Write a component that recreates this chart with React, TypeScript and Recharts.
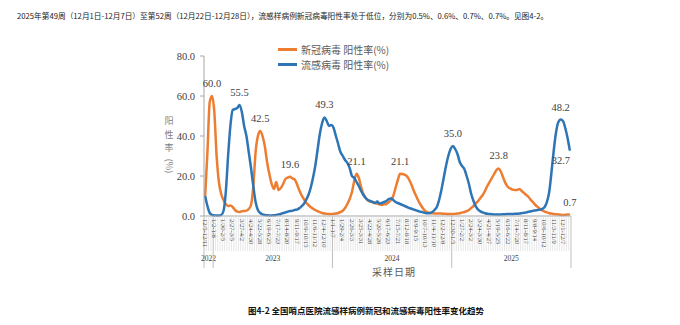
import { LineChart, Line, XAxis, YAxis, Legend, LabelList } from "recharts";

// weekly positivity (%), 2022-12-05 .. 2025-12-28
const covid = [
  10, 32, 57, 60, 52, 30, 17, 11, 8, 6,
  5, 5.2, 4.5, 3, 2.2, 2, 2.4, 2.5, 2.7, 3.5,
  5.5, 15, 32, 40, 42.5, 40, 35, 27, 21, 16,
  13.5, 17, 13, 14, 16, 18.5, 19.2, 19.6, 18.8, 18.3,
  16, 13, 10.5, 8.5, 6.8, 5.5, 4.5, 3.7, 3, 2.4,
  1.9, 1.5, 1.2, 1.1, 1, 1, 1.1, 1.2, 1.5, 2,
  2.6, 4, 6, 8.5, 12, 17.5, 21.1, 19, 14.5, 11,
  9, 7.8, 7.2, 7, 6.5, 6.2, 5.8, 5.5, 5.8, 6,
  6.8, 8, 10, 14, 18, 21.1, 21, 20.6, 19.8, 18,
  15.5, 12.5, 10, 7.5, 5.5, 3.8, 2.5, 1.8, 1.5, 1.4,
  1.3, 1.2, 1.2, 1.2, 1.1, 1.1, 1, 1, 1, 1.1,
  1.2, 1.4, 1.7, 2, 2.4, 3, 4, 5, 6.3, 7.5,
  9, 10.5, 12.5, 15, 17, 19, 21, 23, 23.8, 22,
  19, 16.3, 14.5, 13.8, 13.2, 13, 13, 13.5, 12.5, 11.5,
  10.5, 9.5, 8, 6.8, 5.5, 4.5, 3.5, 2.8, 2.2, 1.8,
  1.4, 1.2, 1, 0.9, 0.8, 0.6, 0.5, 0.6, 0.7, 0.7,
];

const flu = [
  10, 5, 1.5, 0.6, 0.3, 0.2, 0.2, 0.5, 2.5, 12,
  30, 45, 53, 53.5, 54, 55.5, 52, 45, 40, 32,
  24, 15, 7, 3, 1.5, 0.8, 0.5, 0.4, 0.3, 0.3,
  0.4, 0.5, 0.8, 1, 1.5, 1.8, 2.2, 2.5, 2.6, 3,
  3.2, 3.8, 4.8, 6, 8, 10.5, 14, 19, 25, 33,
  41, 46.5, 49.3, 47.5, 45, 45.5, 44, 40, 36, 32,
  30, 28, 26.5, 24, 20, 19, 17, 15, 12.5, 10.5,
  9, 8, 7.5, 7, 6.5, 7.2, 6.2, 6.5, 7, 7.5,
  8.5, 8.8, 8, 7, 6.5, 6, 5.5, 5, 4.5, 4,
  3.6, 3.2, 2.8, 2.4, 2.1, 1.8, 1.5, 1.4, 1.5, 2,
  3, 4.5, 8, 13, 19, 25, 30, 33.5, 35, 33.5,
  31, 27, 25, 23.5, 20, 16, 11, 7.5, 4.8, 3.2,
  2.3, 1.8, 1.4, 1.1, 1, 0.9, 0.8, 0.8, 0.8, 0.8,
  0.9, 0.9, 1, 1, 1, 1.1, 1.1, 1.2, 1.4, 1.6,
  1.8, 2.1, 2.4, 2.6, 2.8, 3, 3.2, 3.6, 4.5, 7,
  12, 22, 33, 42, 47, 48.2, 47.5, 44, 39, 32.7,
];

// one label every 4 weeks
const tickLabels = [
  "12/5-12/11", "1/2-1/8", "1/30-2/5", "2/27-3/5", "3/27-4/2", "4/24-4/30",
  "5/22-5/28", "6/19-6/25", "7/17-7/23", "8/14-8/20", "9/11-9/17", "10/9-10/15",
  "11/6-11/12", "12/4-12/10", "1/1-1/7", "1/29-2/4", "2/26-3/3", "3/25-3/31",
  "4/22-4/28", "5/20-5/26", "6/17-6/23", "7/15-7/21", "8/12-8/18", "9/9-9/15",
  "10/7-10/13", "11/4-11/10", "12/2-12/8", "12/30-1/5", "1/27-2/2", "2/24-3/2",
  "3/24-3/30", "4/21-4/27", "5/19-5/25", "6/16-6/22", "7/14-7/20", "8/11-8/17",
  "9/8-9/14", "10/6-10/12", "11/3-11/9", "12/1-12/7",
];
const years = ["2022", "2023", "2024", "2025"];
const yearStarts = [0, 4, 56, 108];

const covidPeaks = [3, 24, 37, 66, 85, 128, 159];
const fluPeaks = [15, 52, 108, 155];
const fluEnd = [159];

const ORANGE = "#ED7D31";
const BLUE = "#2E75B6";
const SERIF = "'Liberation Serif', 'Noto Sans CJK SC', serif";
const CJK = "'Noto Sans CJK SC', sans-serif";

const N = covid.length;
const data = covid.map((v, i) => ({
  i,
  covid: v,
  flu: flu[i],
  covidLabel: covidPeaks.includes(i) ? v : null,
  fluLabel: fluPeaks.includes(i) ? flu[i] : null,
  fluEndLabel: fluEnd.includes(i) ? flu[i] : null,
}));

const yearEnds = yearStarts.map((s, k) => (k + 1 < yearStarts.length ? yearStarts[k + 1] : N) - 1);
const dividers = Array.from({ length: N + 1 }, (_, k) => k - 0.5);
const xTicks = [...dividers, ...tickLabels.map((_, k) => k * 4)].sort((a, b) => a - b);

function WeekTick(props: any) {
  const { x, y, payload } = props;
  const v = payload.value;
  if (v % 1 !== 0) {
    const boundary = yearStarts.some((s) => s - 0.5 === v) || v === N - 0.5;
    const yi = yearStarts.findIndex((s, k) => (s + yearEnds[k]) / 2 === v);
    return (
      <g>
        <line x1={x} x2={x} y1={y} y2={y + (boundary ? 52 : 35)} stroke={boundary ? "#bfbfbf" : "#d9d9d9"} strokeWidth={boundary ? 1 : 0.6} />
        {yi >= 0 && (
          <text x={x} y={y + 45} textAnchor="middle" fontSize={7.5} fill="#404040" fontFamily={SERIF}>
            {years[yi]}
          </text>
        )}
      </g>
    );
  }
  if (v % 4 !== 0) return <g />;
  return (
    <text transform={`translate(${x},${y + 3}) rotate(90)`} dy="0.35em" fontSize={6.5} fill="#333" fontFamily={SERIF}>
      {tickLabels[v / 4]}
    </text>
  );
}

function peakLabel(dx: number, dy: number) {
  return (p: any) => {
    if (p.value == null) return null;
    const x = p.x ?? p.viewBox?.x;
    const y = p.y ?? p.viewBox?.y;
    return (
      <text x={x + dx} y={y + dy} textAnchor="middle" fontSize={10.5} fill="#404040" fontFamily={SERIF}>
        {Number(p.value).toFixed(1)}
      </text>
    );
  };
}

function LegendBox({ payload }: any) {
  return (
    <div style={{ fontFamily: CJK, fontSize: 10, color: "#595959" }}>
      {(payload || []).map((e: any) => (
        <div key={e.value} style={{ display: "flex", alignItems: "center", height: 15 }}>
          <span style={{ display: "inline-block", width: 19, height: 2.5, background: e.color, marginRight: 4 }} />
          {e.value}
        </div>
      ))}
    </div>
  );
}

export default function App() {
  return (
    <div style={{ position: "absolute", left: 0, top: 0, width: 680, height: 325, background: "#fff" }}>
      <div style={{ position: "absolute", left: 17, top: 10, fontFamily: CJK, fontSize: 7.7, color: "#222", whiteSpace: "nowrap" }}>
        2025年第49周（12月1日-12月7日）至第52周（12月22日-12月28日），流感样病例新冠病毒阳性率处于低位，分别为0.5%、0.6%、0.7%、0.7%。见图4-2。
      </div>
      <LineChart width={680} height={325} data={data} margin={{ top: 56, right: 109, left: 164, bottom: 49 }}>
        <XAxis
          dataKey="i"
          type="number"
          domain={[-0.5, N - 0.5]}
          ticks={xTicks}
          interval={0}
          tick={<WeekTick />}
          tickLine={false}
          tickSize={0}
          tickMargin={0}
          height={60}
          stroke="#a6a6a6"
        />
        <YAxis
          domain={[0, 80]}
          ticks={[0, 20, 40, 60, 80]}
          tickFormatter={(v: number) => v.toFixed(1)}
          width={40}
          tickSize={4}
          tickMargin={5}
          stroke="#a6a6a6"
          tick={{ fontSize: 10.5, fill: "#404040", fontFamily: SERIF }}
        />
        <Legend
          layout="vertical"
          align="center"
          verticalAlign="middle"
          wrapperStyle={{ left: 278, top: 42, width: 130 }}
          content={<LegendBox />}
        />
        <Line type="monotone" dataKey="covid" name="新冠病毒 阳性率(%)" stroke={ORANGE} strokeWidth={2.5} dot={false} isAnimationActive={false}>
          <LabelList dataKey="covidLabel" content={peakLabel(0, -9)} />
        </Line>
        <Line type="monotone" dataKey="flu" name="流感病毒 阳性率(%)" stroke={BLUE} strokeWidth={2.5} dot={false} isAnimationActive={false}>
          <LabelList dataKey="fluLabel" content={peakLabel(0, -9)} />
          <LabelList dataKey="fluEndLabel" content={peakLabel(-9, 13)} />
        </Line>
      </LineChart>
      <div style={{ position: "absolute", left: 163, top: 114, width: 12, fontFamily: CJK, fontSize: 9, lineHeight: "13.5px", color: "#7f7f7f", textAlign: "center" }}>
        阳<br />性<br />率
      </div>
      <div style={{ position: "absolute", left: 158, top: 160, width: 22, height: 12, fontFamily: CJK, fontSize: 9, lineHeight: "12px", color: "#7f7f7f", textAlign: "center", transform: "rotate(90deg)", transformOrigin: "50% 50%" }}>
        (%)
      </div>
      <div style={{ position: "absolute", left: 372, top: 264, fontFamily: CJK, fontSize: 10, color: "#595959", letterSpacing: 1 }}>
        采样日期
      </div>
      <div style={{ position: "absolute", left: 248, top: 304, fontFamily: CJK, fontSize: 8.5, fontWeight: 700, color: "#111", whiteSpace: "nowrap" }}>
        图4-2 全国哨点医院流感样病例新冠和流感病毒阳性率变化趋势
      </div>
    </div>
  );
}
